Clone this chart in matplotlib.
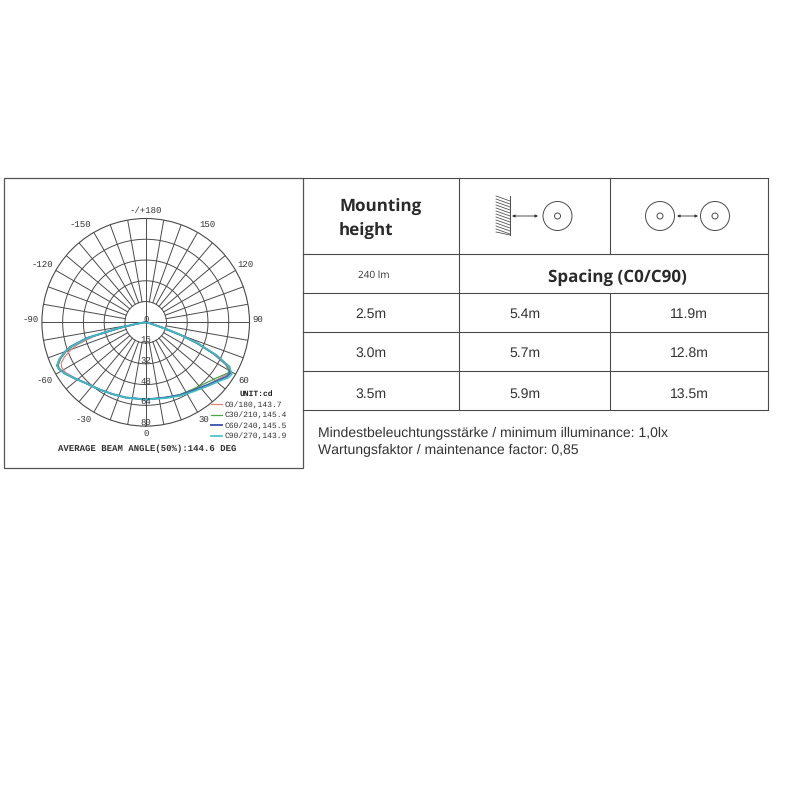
import numpy as np
import matplotlib
matplotlib.use("Agg")
import matplotlib.pyplot as plt
from matplotlib.patches import Circle, Rectangle

plt.rcParams["text.hinting"] = "none"
plt.rcParams["text.hinting_factor"] = 1

# ---------- data ----------
angles = [-90, -85, -82, -80, -78, -75, -72, -70, -67, -64, -62, -58, -52, -45, -35, -25, -15, 0,
          15, 25, 35, 45, 52, 56, 59, 62, 65, 68, 70, 72, 75, 80, 85, 90]
c0 = [0, 1, 3, 6, 17, 41, 55, 61, 68, 72.5, 73.5, 73, 69.5, 66, 63, 61, 60, 59.5,
      60, 62, 64, 68, 71, 73.5, 75, 70, 57, 41, 29, 16, 5, 2, 1, 0]
c30 = [0, 1, 4, 8, 20, 45, 59, 65, 71, 75, 75.5, 74, 70, 66, 63, 61, 60, 59.5,
       60, 61.5, 63, 66, 69.5, 72.5, 75, 71, 59, 42, 29, 16, 5, 2, 1, 0]
c60 = [0, 1, 4, 8, 21, 47, 61, 66, 72, 76, 76, 74, 70, 66, 63, 61, 60, 59.5,
       60, 62, 64, 68, 72, 75, 76, 73, 60, 43, 29, 16, 5, 2, 1, 0]
c90 = [0, 1, 4, 8, 21, 46, 60, 66, 72, 76, 76, 74, 70, 66, 63, 61, 60, 59.5,
       60.5, 62.5, 65, 69, 73, 76.5, 77.5, 73, 60, 43, 29, 16, 5, 2, 1, 0]
series_labels = ["C0/180,143.7", "C30/210,145.4", "C60/240,145.5", "C90/270,143.9"]
series_colors = ["#e0837d", "#4aa544", "#4a5cb4", "#3cc0c4"]
theta_labels = ["150", "120", "90", "60", "30", "0", "-30", "-60", "-90", "-120", "-150", "-/+180"]
radial_ticks = [0, 16, 32, 48, 64, 80]
beam_title = "AVERAGE BEAM ANGLE(50%):144.6 DEG"
unit_label = "UNIT:cd"

heights = ["2.5m", "3.0m", "3.5m"]
wall_spacing = ["5.4m", "5.7m", "5.9m"]
lamp_spacing = ["11.9m", "12.8m", "13.5m"]
notes = ["Mindestbeleuchtungsstärke / minimum illuminance: 1,0lx",
         "Wartungsfaktor / maintenance factor: 0,85"]

INK = "#4a4a4a"
fig = plt.figure(figsize=(8, 8), dpi=100, facecolor="white")

# ---------- overlay in pixel coordinates: table, frame, icons ----------
pg = fig.add_axes([0, 0, 1, 1])
pg.set_xlim(0, 800)
pg.set_ylim(800, 0)
pg.axis("off")

pg.add_patch(Rectangle((3.5, 178), 299.5, 289.5, fill=False, ec="#555555", lw=0.9))
for y in [178, 254, 293, 332, 371, 410]:
    pg.plot([303, 768], [y, y], color=INK, lw=0.8)
pg.plot([458.5, 458.5], [178, 410], color=INK, lw=0.8)
pg.plot([609.5, 609.5], [178, 254], color=INK, lw=0.8)
pg.plot([609.5, 609.5], [293, 410], color=INK, lw=0.8)
pg.plot([768, 768], [178, 410], color=INK, lw=0.8)

BOLD = "Open Sans"
SANS = "Liberation Sans"
pg.text(339, 207, "Mounting", family=BOLD, weight="bold", fontsize=12.2, color="#2a2a2a", va="center")
pg.text(339, 231.5, "height", family=BOLD, weight="bold", fontsize=12.2, color="#2a2a2a", va="center")
pg.text(374, 275.5, "240 lm", family=BOLD, fontsize=7.4, color="#333333", ha="center", va="center")
pg.text(617, 278.5, "Spacing (C0/C90)", family=BOLD, weight="bold", fontsize=12.15, color="#2a2a2a",
        ha="center", va="center")
row_y = [314.3, 353.7, 394]
for y, h, w, l in zip(row_y, heights, wall_spacing, lamp_spacing):
    pg.text(370.7, y, h, family=SANS, fontsize=10.3, color="#333333", ha="center", va="center")
    pg.text(525, y, w, family=SANS, fontsize=10.3, color="#333333", ha="center", va="center")
    pg.text(689.3, y, l, family=SANS, fontsize=10.3, color="#333333", ha="center", va="center")
for y, t in zip([433.7, 450.3], notes):
    pg.text(317.5, y, t, family=SANS, fontsize=9.8, color="#333333", va="center")

# icons
for x0 in [557.5, 660, 715]:
    pg.add_patch(Circle((x0, 216), 14.5, fill=False, ec=INK, lw=0.7))
    pg.add_patch(Circle((x0, 216), 3, fill=False, ec=INK, lw=0.7))
pg.plot([510, 510], [196, 235], color=INK, lw=0.7)
for y in np.arange(196, 235, 3.0):
    pg.plot([496, 510], [y, min(y + 5, 235)], color="#555555", lw=0.6)
for a, b in [(512, 538), (677, 698)]:
    pg.annotate("", xy=(a, 216), xytext=(b, 216),
                arrowprops=dict(arrowstyle="<|-|>", color="#333333", lw=0.6, mutation_scale=4,
                                shrinkA=0, shrinkB=0))

# ---------- polar chart ----------
cx, cy, R = 145.7, 322.3, 103.8
ax = fig.add_axes([(cx - R) / 800, (800 - cy - R) / 800, 2 * R / 800, 2 * R / 800], projection="polar")
ax.patch.set_alpha(0)
ax.set_theta_zero_location("S")
ax.set_theta_direction(1)
ax.set_ylim(0, 80)
ax.set_xticks([])
ax.set_yticks([])
ax.grid(False)
ax.spines["polar"].set_linewidth(0.8)
ax.spines["polar"].set_color(INK)

circ = np.linspace(0, 2 * np.pi, 361)
for r in radial_ticks[1:-1]:
    ax.plot(circ, np.full_like(circ, r), color=INK, lw=0.7, zorder=1)
for d in range(0, 360, 10):
    start = 0 if d % 90 == 0 else 16
    ax.plot(np.radians([d, d]), [start, 80], color=INK, lw=0.7, zorder=1)

th = np.radians(angles)
for vals, lab, col, lw in zip([c0, c30, c60, c90], series_labels, series_colors, [0.9, 0.9, 1.4, 1.2]):
    ax.plot(th, vals, color=col, lw=lw, label=lab, zorder=3)

mono = "Liberation Mono"
label_dx = [62, 100, 111.6, 97.6, 58.6, 0, -62.4, -100.7, -115, -103.7, -65, 0]
label_dy = [-97.6, -58, -2.6, 58, 97, 111.7, 97, 58.4, -2.6, -58, -97.6, -111.6]
for lab, dx, dy in zip(theta_labels, label_dx, label_dy):
    pg.text(cx + dx, cy + dy, lab, family=mono, fontsize=6.8, color="#333333", ha="center", va="center")
for r in radial_ticks[1:]:
    ax.text(0, r - 2.6, str(r), family=mono, fontsize=6.8, color="#333333", ha="center", va="center", zorder=5)
ax.text(np.pi, 2.4, str(radial_ticks[0]), family=mono, fontsize=6.8, color="#333333",
        ha="center", va="center", zorder=5)

ax.legend(loc="upper left", bbox_to_anchor=(210.8 / 800, (800 - 401.5) / 800), bbox_transform=fig.transFigure,
          frameon=False, prop=dict(family=mono, size=5.9), handlelength=1.34, handletextpad=0.4,
          labelspacing=0.36, borderpad=0, borderaxespad=0, labelcolor="#333333")
pg.text(256.5, 394, unit_label, family=mono, weight="bold", fontsize=5.9, color="#222222", ha="center", va="center")
pg.text(147.5, 448.5, beam_title, family=mono, weight="bold", fontsize=6.75, color="#333333", ha="center", va="center")

fig.savefig("out.png", dpi=100, facecolor="white")
